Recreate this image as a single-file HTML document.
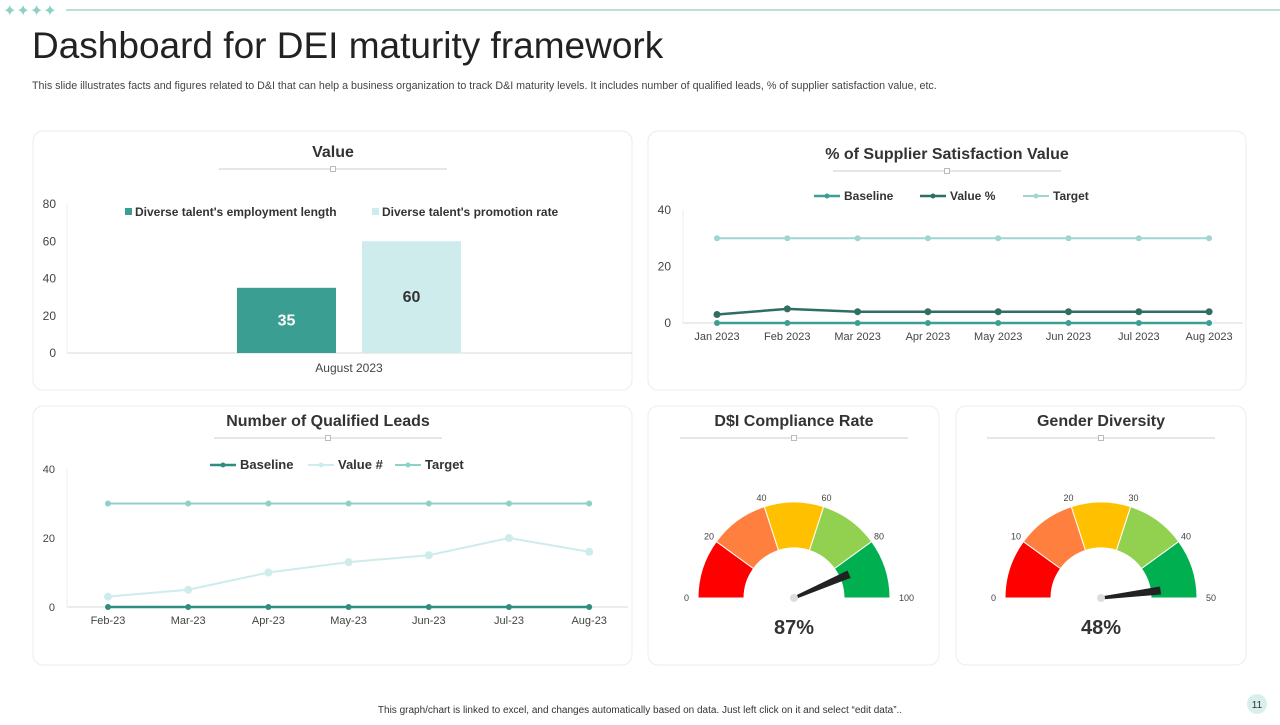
<!DOCTYPE html>
<html><head><meta charset="utf-8"><style>
body{margin:0;width:1280px;height:720px;background:#fff;font-family:"Liberation Sans",sans-serif;overflow:hidden}
svg text{font-family:"Liberation Sans",sans-serif}
</style></head><body>
<svg id="s" width="1280" height="720" xmlns="http://www.w3.org/2000/svg">
<g fill="#8fd0c8">
<text x="3" y="16" font-size="16" fill="#8fd0c8">✦✦✦✦</text>
<line x1="66" y1="10" x2="1280" y2="10" stroke="#7fb8b0" stroke-width="1"/>
</g>
<text x="32" y="58" font-size="37" fill="#222">Dashboard for DEI maturity framework</text>
<text x="32" y="89" font-size="10.7" fill="#444">This slide illustrates facts and figures related to D&amp;I that can help a business organization to track D&amp;I maturity levels. It includes number of qualified leads, % of supplier satisfaction value, etc.</text>
<g id="cards"></g>
<g id="charts"></g>
<text x="640" y="713" font-size="10" fill="#333" text-anchor="middle">This graph/chart is linked to excel, and changes automatically based on data. Just left click on it and select “edit data”..</text>
<circle cx="1257" cy="704" r="10" fill="#d8efec"/>
<text x="1257" y="708" font-size="10" fill="#333" text-anchor="middle">11</text>
</svg>
<script>
const valueSeries=["Diverse talent's employment length","Diverse talent's promotion rate"];
const valueData=[35,60];
const valueTicks=[0,20,40,60,80];
const supMonths=["Jan 2023","Feb 2023","Mar 2023","Apr 2023","May 2023","Jun 2023","Jul 2023","Aug 2023"];
const supBaseline=[0,0,0,0,0,0,0,0];
const supValue=[3,5,4,4,4,4,4,4];
const supTarget=[30,30,30,30,30,30,30,30];
const supTicks=[0,20,40];
const leadMonths=["Feb-23","Mar-23","Apr-23","May-23","Jun-23","Jul-23","Aug-23"];
const leadBaseline=[0,0,0,0,0,0,0];
const leadValue=[3,5,10,13,15,20,16];
const leadTarget=[30,30,30,30,30,30,30];
const leadTicks=[0,20,40];
const complianceTicks=[0,20,40,60,80,100];
const complianceValue=87;
const genderTicks=[0,10,20,30,40,50];
const genderValue=48;

const NS="http://www.w3.org/2000/svg";
const C=document.getElementById('charts'),K=document.getElementById('cards');
function mk(tag,at,p){const e=document.createElementNS(NS,tag);for(const k in at)e.setAttribute(k,at[k]);(p||C).appendChild(e);return e;}
function tx(x,y,t,sz,fill,anchor,w,p){const e=mk('text',{x:x,y:y,'font-size':sz,fill:fill||'#444','text-anchor':anchor||'start','font-weight':w||'normal'},p);e.textContent=t;return e;}

const cards=[["value-card",33,131,599,259,"Value",333,152],["supplier-card",648,131,598,259,"% of Supplier Satisfaction Value",947,154],["leads-card",33,406,599,259,"Number of Qualified  Leads",328,421],["compliance-card",648,406,291,259,"D$I Compliance Rate",794,421],["gender-card",956,406,290,259,"Gender Diversity",1101,421]];
cards.forEach(c=>{
 const r=mk('rect',{x:c[1],y:c[2],width:c[3],height:c[4],rx:10,fill:'#fff',stroke:'#eef0f0','stroke-width':1.2},K);
 
 
 const t=tx(c[6],c[7]+5,c[5],16,'#333','middle','bold',K);
 
 
 const l=mk('line',{x1:c[6]-114,x2:c[6]+114,y1:c[7]+17,y2:c[7]+17,stroke:'#ccc'},K);
 
 
 const q=mk('rect',{x:c[6]-2.5,y:c[7]+14.5,width:5,height:5,fill:'#fff',stroke:'#bbb'},K);
 
 
});

(function(){
 const y=v=>353-v*(149/80);
 mk('line',{x1:67,x2:632,y1:353,y2:353,stroke:'#d9d9d9'});
 mk('line',{x1:67,x2:67,y1:204,y2:353,stroke:'#eee'});
 valueTicks.forEach(v=>{const t=tx(56,y(v)+4,v,12,'#444','end');});
 const cols=['#3a9e92','#cdeceb'];
 const cx=349,bw=99;
 valueData.forEach((v,i)=>{
  const x=cx-112+i*125;
  const b=mk('rect',{x:x,y:y(v),width:bw,height:353-y(v),fill:cols[i]});
  
  
  const l=tx(x+bw/2,(y(v)+353)/2+5,v,16,i?'#333':'#fff','middle','bold');
  
  
 });
 const xl=tx(cx,372,'August 2023',12,'#444','middle');
 const lx=[125,372];
 valueSeries.forEach((s,i)=>{
  const r=mk('rect',{x:lx[i],y:208,width:7,height:7,fill:cols[i]});
  const t=tx(lx[i]+10,216,s,12,'#333','start','bold');
 });
})();

function lineChart(o){
 const y=v=>o.y0-v*o.ys;
 const x=i=>o.x0+i*o.dx;
 mk('line',{x1:o.ax1,x2:o.ax2,y1:o.y0,y2:o.y0,stroke:'#d9d9d9'});
 mk('line',{x1:o.ax1,x2:o.ax1,y1:y(o.ticks[o.ticks.length-1]),y2:o.y0,stroke:'#eee'});
 o.ticks.forEach(v=>{const t=tx(o.ax1-12,y(v)+4,v,o.tsz,'#444','end');});
 o.cats.forEach((c,i)=>{const t=tx(x(i),o.y0+17,c,11,'#444','middle');});
 o.series.forEach(s=>{
  const p=mk('polyline',{points:s.d.map((v,i)=>x(i)+','+y(v)).join(' '),fill:'none',stroke:s.c,'stroke-width':s.w});
  
  
  s.d.forEach((v,i)=>{const m=mk('circle',{cx:x(i),cy:y(v),r:s.r,fill:s.c});});
 });
 o.series.forEach((s,i)=>{
  const lx=o.lx[i];
  mk('line',{x1:lx,x2:lx+26,y1:o.ly,y2:o.ly,stroke:s.c,'stroke-width':s.w});
  mk('circle',{cx:lx+13,cy:o.ly,r:2.5,fill:s.c});
  const t=tx(lx+30,o.ly+4,s.n,o.lsz,'#333','start','bold');
 });
}
lineChart({name:'supplier',cats:supMonths,ticks:supTicks,y0:323,ys:113/40,x0:717,dx:70.3,ax1:683,ax2:1243,tsz:12,lsz:12,ly:196,lx:[814,920,1023],
 series:[{n:'Baseline',d:supBaseline,c:'#3f9e93',w:2.5,r:3},{n:'Value %',d:supValue,c:'#2f6e64',w:2.5,r:3.5},{n:'Target',d:supTarget,c:'#9fd6d2',w:2,r:3}]});
lineChart({name:'leads',cats:leadMonths,ticks:leadTicks,y0:607,ys:138/40,x0:108,dx:80.2,ax1:67,ax2:628,tsz:11,lsz:13,ly:465,lx:[210,308,395],
 series:[{n:'Baseline',d:leadBaseline,c:'#2e8c80',w:2.5,r:3},{n:'Value #',d:leadValue,c:'#cdeceb',w:2,r:4},{n:'Target',d:leadTarget,c:'#8fd0c8',w:2,r:3}]});

function gauge(name,cx,cy,ticks,val){
 const R=96,r=50,max=ticks[ticks.length-1];
 const cols=['#ff0000','#ff7f3f','#ffc000','#92d050','#00b050'];
 const ang=v=>Math.PI*(1-v/max);
 const pt=(a,rad)=>[cx+rad*Math.cos(a),cy-rad*Math.sin(a)];
 for(let i=0;i<ticks.length-1;i++){
  const a1=ang(ticks[i]),a2=ang(ticks[i+1]);
  const p1=pt(a1,R),p2=pt(a2,R),p3=pt(a2,r),p4=pt(a1,r);
  const s=mk('path',{d:`M${p1} A${R},${R} 0 0 1 ${p2} L${p3} A${r},${r} 0 0 0 ${p4}Z`,fill:cols[i],stroke:'#fff','stroke-width':1});
  
  
 }
 ticks.forEach(v=>{const a=ang(v);const p=pt(a,R+9);const t=tx(p[0],p[1]+3,v,9,'#444',v==0?'end':(v==max?'start':'middle'));});
 const a=ang(val),tip=pt(a,R-36),n1=pt(a+Math.PI/2,1.5),n2=pt(a-Math.PI/2,1.5);
 const bw=pt(a+Math.PI/2,4),bw2=pt(a-Math.PI/2,4);
 const w1=[tip[0]+bw[0]-cx,tip[1]+bw[1]-cy],w2=[tip[0]+bw2[0]-cx,tip[1]+bw2[1]-cy];
 const nd=mk('polygon',{points:`${n1} ${w1} ${tip} ${w2} ${n2}`,fill:'#222'});
 
 
 mk('circle',{cx:cx,cy:cy,r:4,fill:'#ddd'});
 const t=tx(cx,cy+36,val+'%',20,'#333','middle','bold');
 
 
}
gauge('compliance-gauge',794,598,complianceTicks,complianceValue);
gauge('gender-gauge',1101,598,genderTicks,genderValue);
</script>
</body></html>
